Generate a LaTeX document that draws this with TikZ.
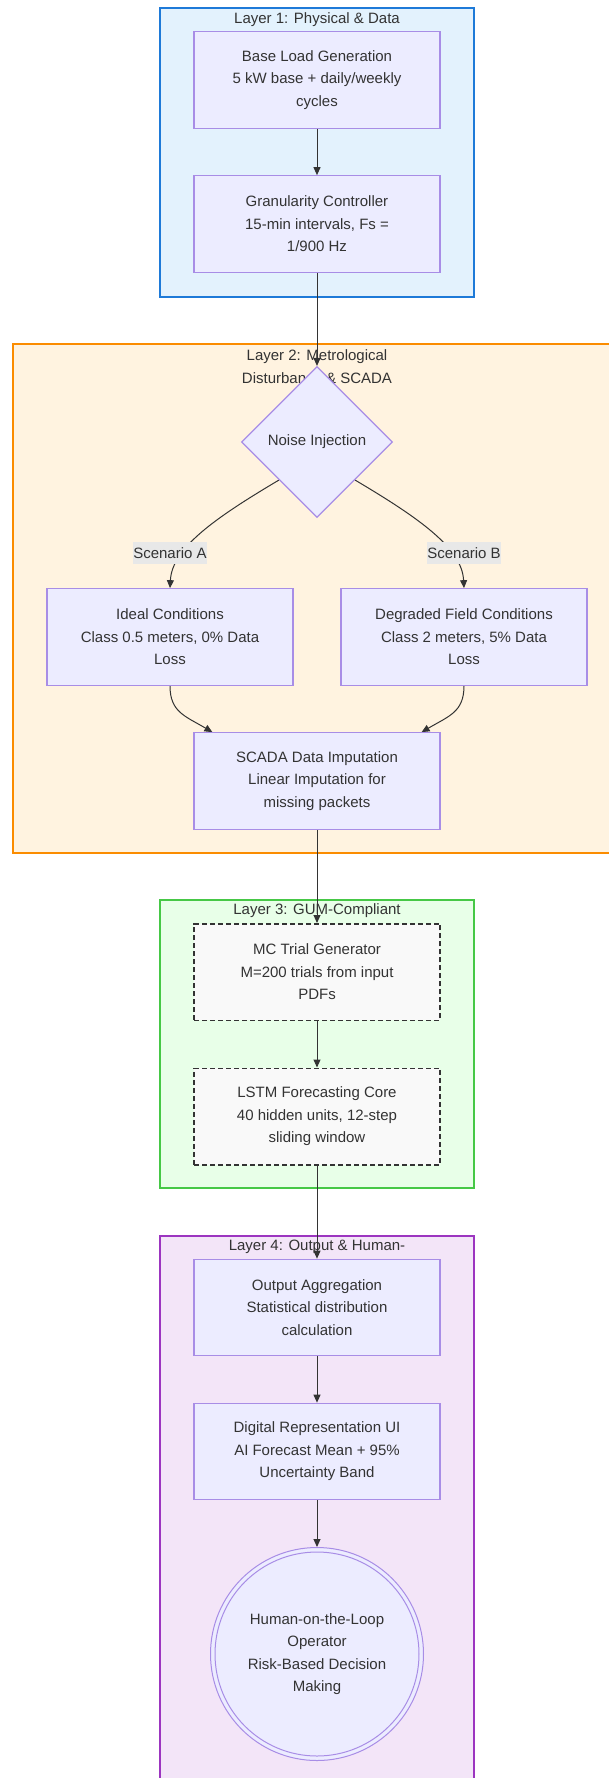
\documentclass[tikz,border=0pt]{standalone}
\usepackage{fontspec}
\setmainfont{Liberation Sans}
\usetikzlibrary{arrows.meta,shapes.geometric}
\definecolor{txt}{HTML}{333333}
\definecolor{nodefill}{HTML}{ECECFF}
\definecolor{nodestroke}{HTML}{A88DE6}
\definecolor{dashfill}{HTML}{F9F9F9}
\definecolor{labelbg}{HTML}{E8E8E8}
\definecolor{lafill}{HTML}{E3F2FD}
\definecolor{lastroke}{HTML}{1E7AD8}
\definecolor{lbfill}{HTML}{FFF3E0}
\definecolor{lbstroke}{HTML}{FB8C00}
\definecolor{lcfill}{HTML}{E8FFE8}
\definecolor{lcstroke}{HTML}{46C846}
\definecolor{ldfill}{HTML}{F3E5F8}
\definecolor{ldstroke}{HTML}{9C35C0}
\pgfdeclarelayer{bg}
\pgfdeclarelayer{edges}
\pgfsetlayers{bg,edges,main}
\begin{document}
\begin{tikzpicture}[x=1pt,y=-1pt,
  every node/.style={text=txt, font=\fontsize{15}{22.5}\selectfont, align=center},
  proc/.style={draw=nodestroke, fill=nodefill, line width=1.2pt, minimum width=246pt, minimum height=96.5pt, inner sep=0pt},
  dashbox/.style={draw=txt, fill=dashfill, line width=1.5pt, dash pattern=on 5pt off 3pt, minimum width=246pt, minimum height=96.5pt, inner sep=0pt},
  decide/.style={diamond, draw=nodestroke, fill=nodefill, line width=1.2pt, minimum width=151pt, minimum height=151pt, inner sep=0pt},
  layerbox/.style={line width=2pt},
  elabel/.style={fill=labelbg, inner sep=0pt, minimum height=22pt, minimum width=73pt},
  edge/.style={draw=txt, line width=1pt, -{Triangle[length=8pt,width=7pt]}}]
\useasboundingbox (0,0) rectangle (609,1778);
\begin{pgfonlayer}{bg}
  \fill[white] (0,0) rectangle (609,1778);
  \draw[layerbox, draw=lastroke, fill=lafill] (160,8) rectangle (474,297);
  \draw[layerbox, draw=lbstroke, fill=lbfill] (12.5,344) rectangle (621,853);
  \draw[layerbox, draw=lcstroke, fill=lcfill] (160,900) rectangle (474,1188);
  \draw[layerbox, draw=ldstroke, fill=ldfill] (160,1236) rectangle (474,1795);
  \node (t1) at (317,20) {Layer 1: Physical \& Data};
  \node (t2) at (317,366.5) {Layer 2: Metrological\\Disturbance \& SCADA};
  \node (t3) at (317,911) {Layer 3: GUM-Compliant};
  \node (t4) at (317,1247) {Layer 4: Output \& Human-};
\end{pgfonlayer}

\node[proc] (bl) at (317,80) {Base Load Generation\\5 kW base + daily/weekly\\cycles};
\node[proc] (gc) at (317,224) {Granularity Controller\\15-min intervals, Fs =\\1/900 Hz};
\node[decide] (dia) at (317,442) {Noise Injection};
\node[proc] (ideal) at (170,637) {Ideal Conditions\\Class 0.5 meters, 0\% Data\\Loss};
\node[proc] (degr) at (464,637) {Degraded Field Conditions\\Class 2 meters, 5\% Data\\Loss};
\node[proc] (scada) at (317,781) {SCADA Data Imputation\\Linear Imputation for\\missing packets};
\node[dashbox] (mc) at (317,972) {MC Trial Generator\\M=200 trials from input\\PDFs};
\node[dashbox] (lstm) at (317,1116.5) {LSTM Forecasting Core\\40 hidden units, 12-step\\sliding window};
\node[proc] (oa) at (317,1307.5) {Output Aggregation\\Statistical distribution\\calculation};
\node[proc] (dr) at (317,1451.5) {Digital Representation UI\\AI Forecast Mean + 95\%\\Uncertainty Band};
\node[circle, draw=nodestroke, fill=nodefill, line width=1pt, minimum size=213pt, inner sep=0pt] (hol) at (317,1654) {Human-on-the-Loop\\Operator\\Risk-Based Decision\\Making};
\draw[nodestroke, line width=1pt] (hol.center) circle (102pt);

\node[elabel] (la) at (170,553) {Scenario A};
\node[elabel] (lb) at (464,553) {Scenario B};

\begin{pgfonlayer}{edges}
  \draw[edge] (bl.south) -- (gc.north);
  \draw[edge] (gc.south) -- (dia.north);
  \draw[edge] (dia.south west) .. controls (215,518) and (172,548) .. (ideal.north);
  \draw[edge] (dia.south east) .. controls (419,518) and (462,548) .. (degr.north);
  \draw[edge] (ideal.south) .. controls (170,712) and (185,716) .. ([xshift=19pt]scada.north west);
  \draw[edge] (degr.south) .. controls (464,712) and (449,716) .. ([xshift=-19pt]scada.north east);
  \draw[edge] (scada.south) -- (mc.north);
  \draw[edge] (mc.south) -- (lstm.north);
  \draw[edge] (lstm.south) -- (oa.north);
  \draw[edge] (oa.south) -- (dr.north);
  \draw[edge] (dr.south) -- (hol.north);
\end{pgfonlayer}
\end{tikzpicture}
\end{document}
